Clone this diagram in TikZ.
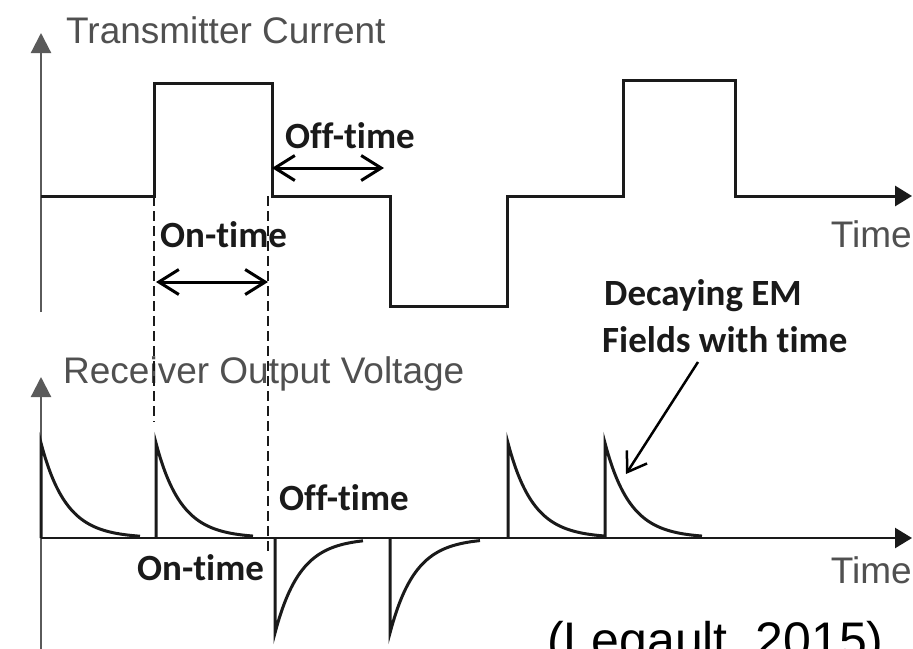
\documentclass[tikz,border=0pt]{standalone}
\usepackage{fontspec}
\setmainfont{Liberation Sans}
\newfontfamily\calib{Carlito}[Ligatures=NoCommon]
\usetikzlibrary{arrows.meta}
\definecolor{lblgray}{HTML}{505050}
\definecolor{axgray}{HTML}{5A5A5A}
\definecolor{ink}{HTML}{1A1A1A}
\newcommand\posspike[2]{\draw[wave] (#1,538) -- (#1,443) -- plot[domain=0:#2,samples=60] ({#1+\x},{538-95*exp(-\x/25)});}
\newcommand\negspike[2]{\draw[wave] (#1,538) -- (#1,633) -- plot[domain=0:#2,samples=60] ({#1+\x},{538+95*exp(-\x/25)});}
\begin{document}
\begin{tikzpicture}[x=1pt,y=-1pt,
  lbl/.style={inner sep=0pt, text=lblgray, font=\fontsize{37}{40}\selectfont},
  blbl/.style={inner sep=0pt, text=ink, font=\calib\bfseries\fontsize{37}{40}\selectfont},
  wave/.style={draw=ink, line width=3pt, line join=miter},
  vaxis/.style={draw=axgray, line width=2.2pt, -{Triangle[length=20pt,width=20pt]}},
  haxis/.style={draw=ink, line width=3pt, -{Triangle[length=17pt,width=20pt]}},
  guide/.style={draw=ink, line width=1.6pt, dash pattern=on 10pt off 5pt},
  span/.style={draw=black, line width=3pt, {Straight Barb[length=20pt,width=25pt,line width=3pt]}-{Straight Barb[length=20pt,width=25pt,line width=3pt]}},
  pointer/.style={draw=black, line width=2.5pt, -{Straight Barb[length=18pt,width=24pt,line width=2.5pt]}}]
\useasboundingbox (0,0) rectangle (913,648);
\clip (0,0) rectangle (913,648);
\fill[white] (0,0) rectangle (913,648);

% ---------- labels ----------
\node[lbl, anchor=base west] (tc) at (66,43) {Transmitter Current};
\node[lbl, anchor=base west] (rov) at (63,383) {Receiver Output Voltage};
\node[lbl, anchor=base east] (time1) at (912,247) {Time};
\node[lbl, anchor=base east] (time2) at (912,583) {Time};
\node[blbl, anchor=base west] (off1) at (285,148) {Off-time};
\node[blbl, anchor=base west] (on1) at (160,247) {On-time};
\node[blbl, anchor=base west] (off2) at (279,510) {Off-time};
\node[blbl, anchor=base west] (on2) at (137,580) {On-time};
\node[blbl, anchor=base west] (dec) at (604,305) {Decaying EM};
\node[blbl, anchor=base west] (fw) at (602,352) {Fields with time};
\node[anchor=base west, inner sep=0pt, text=black, font=\fontsize{50}{54}\selectfont] (leg) at (547,657) {(Legault, 2015)};

% ---------- transmitter current ----------
\coordinate (ax1top) at (41,33);
\coordinate (ax1bot) at (41,312);
\draw[vaxis] (ax1bot) -- (ax1top);
\coordinate (t0) at (41,196);
\coordinate (t1end) at (912,196);
\draw[wave] (t0) -- (154,196) -- (154,83) -- (272,83) -- (272,196) -- (390,196)
  -- (390,306) -- (507,306) -- (507,196) -- (623,196) -- (623,80) -- (735,80) -- (735,196) -- (880,196);
\draw[haxis] (735,196) -- (t1end);

% on/off spans
\coordinate (offA) at (272,168);
\coordinate (offB) at (384,168);
\draw[span] (offA) -- (offB);
\coordinate (onA) at (156,282);
\coordinate (onB) at (268,282);
\draw[span] (onA) -- (onB);

% dashed guides
\coordinate (gl1) at (154,196);
\coordinate (gl2) at (154,422);
\coordinate (gr1) at (268,196);
\coordinate (gr2) at (268,553);
\draw[guide] (gl1) -- (gl2);
\draw[guide] (gr1) -- (gr2);

% ---------- receiver output voltage ----------
\coordinate (ax2top) at (41,377);
\coordinate (ax2bot) at (41,660);
\draw[vaxis] (ax2bot) -- (ax2top);
\coordinate (b0) at (41,538);
\coordinate (b1end) at (912,538);
\draw[haxis, line width=2.4pt] (b0) -- (b1end);

\posspike{41}{99}
\posspike{156}{97}
\negspike{275}{88}
\negspike{390}{90}
\posspike{508}{97}
\posspike{605}{97}

% pointer
\coordinate (ptail) at (698,362);
\coordinate (ptip) at (626,474);
\draw[pointer] (ptail) -- (ptip);
\end{tikzpicture}
\end{document}
